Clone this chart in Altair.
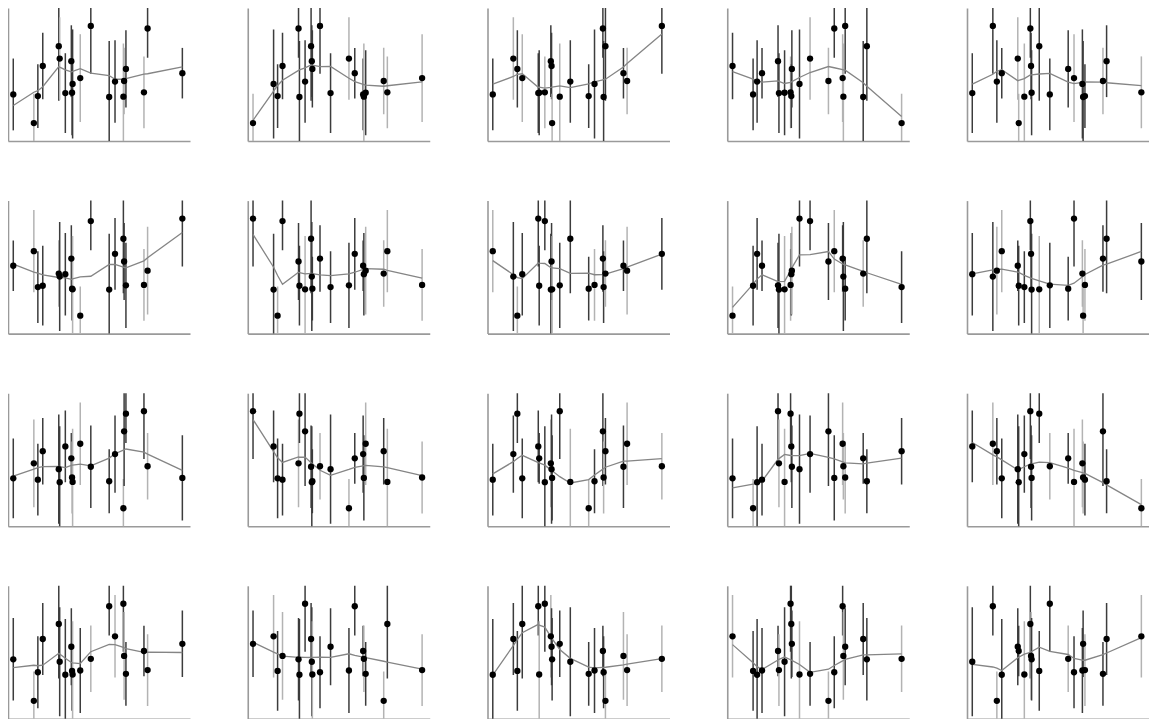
import altair as alt
import pandas as pd

# shared x positions of the 20 observations (fraction of the axis)
x_vals = [0.029, 0.142, 0.164, 0.191, 0.279, 0.284, 0.315, 0.348, 0.352, 0.355,
          0.397, 0.455, 0.556, 0.588, 0.634, 0.638, 0.648, 0.747, 0.767, 0.958]

# the 20 observed (value, error) pairs, labelled A..T
labels = list("ABCDEFGHIJKLMNOPQRST")
base_values = [13.5, 33.1, 33.3, 33.8, 35.0, 36.0, 36.3, 36.6, 42.9, 44.7,
               45.1, 47.3, 51.0, 54.2, 56.4, 60.0, 62.0, 71.3, 84.6, 86.5]
base_errors = [22, 42, 40, 24, 27, 30, 32, 27, 41, 31,
               25, 33, 19, 29, 25, 27, 31, 41, 22, 36]
base_shades = ["light", "dark", "light", "dark", "dark", "dark", "dark", "light", "dark", "dark",
               "light", "light", "dark", "dark", "dark", "dark", "light", "dark", "dark", "dark"]

# which pair sits at each x position, panel by panel (row-major)
panel_orders = [
    "EADORQFPGILTBJCKNHSM",
    "AIDOSBJRPNTFQMECGKHL",
    "EQNLFGHPOACJDISBRMKT",
    "OEJMPFGHDNIQKSLCTBRA",
    "FTJMQACSOGRENLIBDKPH",
    "MQEFKIJODCASBPRNGHLT",
    "TBASNFCRIDOEGPMJLKQH",
    "QIAJTFSBNCGRDHOEKMLP",
    "AFPMGBCHJLTSNQOIDKRE",
    "JILQMFESPBCGDTKAHORN",
    "FLEOIBPMHCQJDNARSTKG",
    "TPFELSRJBDKIAMNGQOCH",
    "ENSFPMBLIGTCADRHOJQK",
    "FABETLCSPJINRGQKHMDO",
    "PQOFIBNTJGSKMCLHERDA",
    "JAEPRIBNFCGKSQTLDMHO",
    "OQFLJBTPICENGSMKDARH",
    "BPFRSCTQNJOIDGMEALHK",
    "QFBGMHITROCDAESLNPJK",
    "ISABNMCRLJFTKEGOHDPQ",
]

val = dict(zip(labels, base_values))
err = dict(zip(labels, base_errors))
shd = dict(zip(labels, base_shades))

rows = []
for p, order in enumerate(panel_orders, start=1):
    for i, ch in enumerate(order):
        rows.append({"panel": p, "x": x_vals[i], "y": val[ch],
                     "lo": val[ch] - err[ch], "hi": val[ch] + err[ch],
                     "shade": shd[ch]})
df = pd.DataFrame(rows)

axis_style = dict(title=None, labels=False, ticks=False, grid=False,
                  domainColor="#9a9a9a", domainWidth=1.6)
xs = alt.Scale(domain=[0, 1], nice=False, zero=False)
ys = alt.Scale(domain=[0, 100], nice=False, zero=False)


def panel(p):
    base = alt.Chart(df).transform_filter(alt.datum.panel == p)
    bars = base.mark_rule(clip=True, strokeWidth=1.5).encode(
        x=alt.X("x:Q", scale=xs, axis=alt.Axis(**axis_style)),
        y=alt.Y("lo:Q", scale=ys, axis=alt.Axis(**axis_style)),
        y2="hi:Q",
        color=alt.Color("shade:N", scale=alt.Scale(domain=["dark", "light"],
                                                   range=["#3c3c3c", "#b3b3b3"]),
                        legend=None),
    )
    trend = base.transform_loess("x", "y", bandwidth=0.5).mark_line(
        color="#858585", strokeWidth=1.3).encode(
        x=alt.X("x:Q", scale=xs),
        y=alt.Y("y:Q", scale=ys),
    )
    pts = base.mark_circle(size=40, color="black", opacity=1).encode(
        x=alt.X("x:Q", scale=xs),
        y=alt.Y("y:Q", scale=ys),
    )
    return alt.layer(bars, trend, pts).properties(width=182, height=133)


chart = alt.concat(
    *[panel(p) for p in range(1, len(panel_orders) + 1)],
    columns=5,
    spacing={"row": 59.6, "column": 57.75},
).properties(padding=0).configure_view(stroke=None)

chart.save("out.html", embed_options={"renderer": "svg", "actions": False})
